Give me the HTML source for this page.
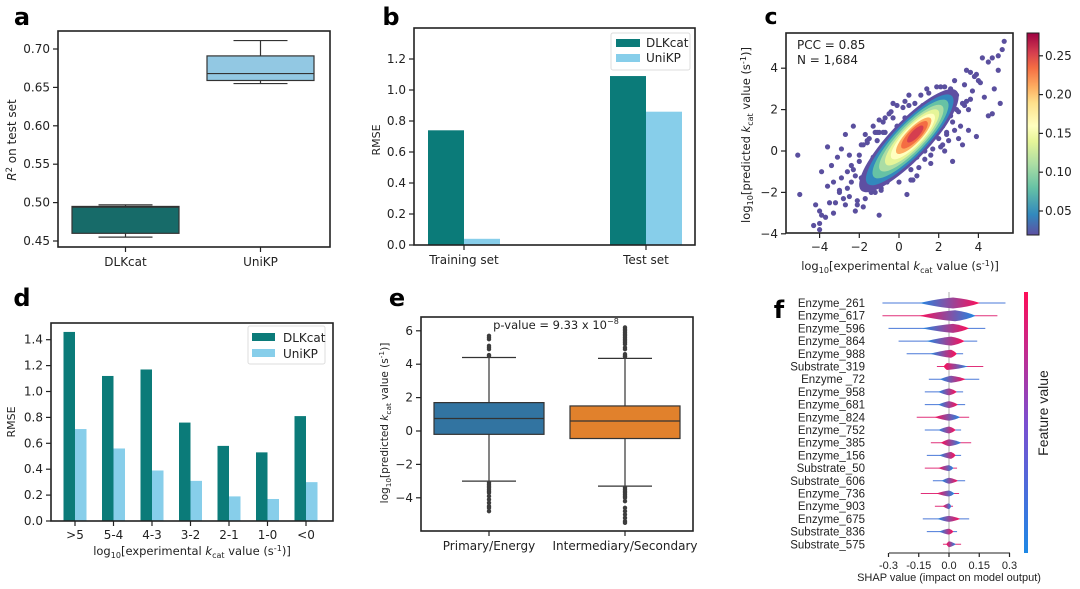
<!DOCTYPE html>
<html><head><meta charset="utf-8"><style>
html,body{margin:0;padding:0;background:#fff}
svg{display:block;font-family:"DejaVu Sans","Liberation Sans",sans-serif}
</style></head><body>
<svg id="fig" width="1080" height="589" viewBox="0 0 1080 589" xmlns="http://www.w3.org/2000/svg">
<defs>
<linearGradient id="cbgrad" x1="0" y1="1" x2="0" y2="0"></linearGradient>
<linearGradient id="fgrad" x1="0" y1="1" x2="0" y2="0"><stop offset="0" stop-color="#1e88e5"/><stop offset="0.5" stop-color="#7b4fd0"/><stop offset="1" stop-color="#ff0d57"/></linearGradient>
</defs>
</svg>
<script>
// ---------- DATA ----------
// panel a
const aCats=["DLKcat","UniKP"];
const aQ1=[0.460,0.659], aMed=[0.494,0.668], aQ3=[0.495,0.691], aLo=[0.455,0.655], aHi=[0.497,0.711];
const aTicks=[0.45,0.50,0.55,0.60,0.65,0.70];
// panel b
const bCats=["Training set","Test set"];
const bDLK=[0.74,1.09], bUni=[0.04,0.86];
const bTicks=[0.0,0.2,0.4,0.6,0.8,1.0,1.2];
// panel c
const cTicks=[-4,-2,0,2,4];
const cbTicks=[0.05,0.10,0.15,0.20,0.25];
const cOutX=[-5.1,-5.0,-4.3,-4.0,-4.0,-4.2,-4.0,-3.9,-3.6,-3.5,-3.3,-3.0,-2.8,-2.7,-2.5,-2.3,-2.0,-2.2,-1.8,-1.0,0.4,-3.9,-3.7,-3.2,-2.9,-2.6,-2.4,-2.1,-1.9,-1.6,-1.3,-1.1,-0.8,-0.5,-0.3,-0.1,0.2,0.5,0.8,1.1,1.4,1.7,2.0,2.3,2.6,2.9,3.1,3.4,3.6,3.8,4.0,3.9,3.5,3.2,4.2,4.5,4.7,5.0,5.2,5.3,5.0,4.8,5.1,4.5,4.7,-1.5,-1.2,-0.9,-0.6,-0.2,0.1,0.6,0.9,1.3,1.6,2.2,2.5,2.8,3.0,-2.6,-2.9,-3.4,-1.7,-0.4,0.3,1.0,1.9,2.7,3.3,-1.4,-0.7,0.0,1.5,2.4,3.7,4.3,-3.1,-2.2,-1.0,0.7,1.2,2.1,3.5,-2.5,-1.9,
 -2.3,-2.0,-1.8,-1.5,-1.2,-1.0,-0.7,-0.4,-0.1,0.3,0.6,1.0,1.3,1.7,2.0,2.4,2.7,3.0,3.3,-2.1,-1.7,-1.4,-0.9,-0.6,-0.2,0.2,0.8,1.2,1.8,2.2,2.6,2.9,3.2,3.6,-2.4,-1.6,-1.1,-0.3,0.5,1.1,2.1,2.8,3.4,3.9,4.1,-3.0,-2.7,-3.6,-3.3,0.9,1.6,2.3,-0.8,-1.3];
const cOutY=[-0.2,-2.1,-3.6,-3.8,-3.5,-2.6,-2.9,-1.0,0.2,-2.5,-1.5,-2.0,-2.3,0.8,-0.2,1.2,-0.5,-2.9,-2.7,-3.1,-2.1,-3.1,-3.2,-2.5,-1.3,-1.8,-0.7,-2.6,-1.3,0.4,1.2,0.5,1.4,1.8,2.3,1.2,2.1,2.7,2.3,2.0,3.0,2.5,1.9,3.1,3.0,2.7,1.2,2.4,3.8,3.6,3.4,0.7,1.0,0.3,4.5,4.3,4.5,4.6,4.9,5.3,3.9,3.0,2.3,1.7,1.8,-1.6,-2.0,-1.8,-1.2,-1.0,-0.6,-0.9,-0.3,0.0,-0.2,0.3,0.5,1.0,0.6,-1.0,0.1,-0.7,0.8,-0.8,1.6,1.7,3.1,-0.5,3.2,-0.6,0.9,-1.5,2.8,0.8,2.9,2.6,-0.3,-1.2,0.9,-1.4,2.2,0.2,2.0,-2.2,0.3,
 -0.9,-0.2,0.3,0.6,0.9,1.5,1.6,1.9,2.2,2.4,-1.4,-0.8,-0.4,0.1,0.6,0.9,1.4,1.9,2.2,-2.4,-2.3,-2.0,-1.9,-1.5,-1.1,-0.7,-0.1,0.2,0.8,1.2,1.7,2.0,2.3,2.5,-1.5,0.5,0.9,1.6,2.2,2.7,3.1,3.4,3.9,3.7,3.3,-1.9,-2.6,-1.7,-3.0,-1.2,-0.6,0.0,0.9,-0.3];
const cDensLevels=[0.03,0.06,0.09,0.12,0.15,0.18,0.21,0.24,0.27];
const cMajor=[3.4,3.0,2.6,2.2,1.85,1.5,1.2,0.9,0.55];
const cMinor=[0.95,0.82,0.72,0.62,0.53,0.45,0.37,0.29,0.19];
const cCenterX=[0.5], cCenterY=[0.5];
// panel d
const dCats=[">5","5-4","4-3","3-2","2-1","1-0","<0"];
const dDLK=[1.46,1.12,1.17,0.76,0.58,0.53,0.81];
const dUni=[0.71,0.56,0.39,0.31,0.19,0.17,0.30];
const dTicks=[0.0,0.2,0.4,0.6,0.8,1.0,1.2,1.4];
// panel e
const eCats=["Primary/Energy","Intermediary/Secondary"];
const eQ1=[-0.2,-0.45], eMed=[0.75,0.6], eQ3=[1.7,1.5], eLo=[-3.0,-3.3], eHi=[4.4,4.35];
const eOutHigh=[[4.5,4.55,4.9,5.0,5.1,5.5,5.6,5.7],[4.45,4.5,4.6,4.9,5.0,5.2,5.3,5.4,5.5,5.6,5.7,5.8,5.9,6.0,6.1,6.2]];
const eOutLow=[[-3.1,-3.2,-3.3,-3.4,-3.5,-3.6,-3.7,-3.9,-4.1,-4.3,-4.5,-4.6,-4.8],[-3.4,-3.5,-3.6,-3.7,-3.8,-3.9,-4.0,-4.2,-4.6,-4.8,-5.0,-5.2,-5.4,-5.5]];
const eTicks=[-4,-2,0,2,4,6];
// panel f
const fFeat=["Enzyme_261","Enzyme_617","Enzyme_596","Enzyme_864","Enzyme_988","Substrate_319","Enzyme _72","Enzyme_958","Enzyme_681","Enzyme_824","Enzyme_752","Enzyme_385","Enzyme_156","Substrate_50","Substrate_606","Enzyme_736","Enzyme_903","Enzyme_675","Substrate_836","Substrate_575"];
const fMin=[-0.33,-0.33,-0.30,-0.25,-0.21,-0.06,-0.10,-0.12,-0.12,-0.16,-0.12,-0.09,-0.11,-0.12,-0.08,-0.14,-0.07,-0.13,-0.11,-0.03];
const fMax=[0.28,0.24,0.18,0.14,0.07,0.17,0.15,0.07,0.08,0.10,0.06,0.11,0.06,0.04,0.08,0.05,0.02,0.10,0.04,0.06];
const fPeak=[0.02,0.03,0.02,0.01,0.01,-0.01,0.01,0.0,0.0,0.0,0.0,0.0,0.01,0.0,0.0,0.0,0.0,0.0,0.0,0.0];
const fThick=[5.5,5.5,4.5,4.5,4,3.5,3.5,3.5,3.5,3.5,3.5,3.5,3.5,3,3,3,3,3,3,3];
const fLeftRed=[0,1,0,0,0,1,0,0,0,1,0,1,0,1,0,1,1,0,0,1];
const fTicks=[-0.3,-0.15,0.0,0.15,0.3];
const fTickLbl=["-0.3","-0.15","0.0","0.15","0.3"];

// ---------- HELPERS ----------
const NS="http://www.w3.org/2000/svg";
const svg=document.getElementById('fig');
function mk(tag,attrs,name,parent){
  const e=document.createElementNS(NS,tag);
  for(const k in attrs) e.setAttribute(k,attrs[k]);
  
  
  (parent||svg).appendChild(e);
  return e;
}
function txt(x,y,s,name,opt){
  opt=opt||{};
  const t=mk('text',{x:x,y:y,'font-size':opt.fs||12,fill:opt.fill||'#222','text-anchor':opt.anchor||'middle','font-weight':opt.fw||'normal'},name);
  if(opt.rot!==undefined) t.setAttribute('transform','rotate('+opt.rot+' '+x+' '+y+')');
  if(opt.family) t.setAttribute('font-family',opt.family);
  t.textContent=s; return t;
}
function line(x1,y1,x2,y2,name,col,w){return mk('line',{x1:x1,y1:y1,x2:x2,y2:y2,stroke:col||'#222','stroke-width':w||1.2},name);}
function frame(x0,y0,x1,y1,name){return mk('rect',{x:x0,y:y0,width:x1-x0,height:y1-y0,fill:'none',stroke:'#222','stroke-width':1.6},name);}
function richLabel(x,y,parts,name,opt){
  const t=txt(x,y,'',name,opt);
  parts.forEach(p=>{const s=document.createElementNS(NS,'tspan');
    if(p.sub||p.sup){s.setAttribute('font-size',(opt.fs||12)*0.7);}
    if(p.dy)s.setAttribute('dy',p.dy);
    if(p.it)s.setAttribute('font-style','italic');
    s.textContent=p.t;t.appendChild(s);});
  return t;
}
function kcatParts(pre){return [{t:'log'},{t:'10',sub:1,dy:3},{t:'['+pre+' ',dy:-3},{t:'k',it:1},{t:'cat',sub:1,dy:3},{t:' value (s',dy:-3},{t:'-1',sup:1,dy:-4},{t:')]',dy:4}];}

// ---------- PANEL A ----------
txt(22,25,'a','panel-label-a',{fs:24,fw:'bold',fill:'#000'});
const ya=v=>241-(v-0.45)/0.05*38.4;
const axA=[125.5,260.5];
aCats.forEach((c,i)=>{
  const cx=axA[i], hw=53.5, col=i?'#92c8e3':'#176b69';
  line(cx,ya(aHi[i]),cx,ya(aQ3[i]),'whisker-a-'+c,'#333');
  line(cx,ya(aQ1[i]),cx,ya(aLo[i]),'whisker-a-'+c,'#333');
  line(cx-27,ya(aHi[i]),cx+27,ya(aHi[i]),'cap-a-'+c,'#333');
  line(cx-27,ya(aLo[i]),cx+27,ya(aLo[i]),'cap-a-'+c,'#333');
  mk('rect',{x:cx-hw,y:ya(aQ3[i]),width:hw*2,height:ya(aQ1[i])-ya(aQ3[i]),fill:col,stroke:'#333','stroke-width':1.2},'box-a-'+c);
  line(cx-hw,ya(aMed[i]),cx+hw,ya(aMed[i]),'median-a-'+c,'#333');
  line(cx,247,cx,252,'xtick-a','#222');
  txt(cx,266,c,'xtick-label-a',{fs:12});
});
aTicks.forEach(v=>{line(53,ya(v),58,ya(v),'ytick-a');txt(50,ya(v)+4,v.toFixed(2),'ytick-label-a',{anchor:'end',fs:12});});
frame(58,31,330,247,'axes-a');
richLabel(16,140,[{t:'R',it:1},{t:'2',sup:1,dy:-4},{t:' on test set',dy:4}],'y-axis-title-a',{fs:12,rot:-90});

// ---------- PANEL B ----------
txt(391,25,'b','panel-label-b',{fs:24,fw:'bold',fill:'#000'});
const yb=v=>245-v/0.2*31;
const bx=[464,646];
bCats.forEach((c,i)=>{
  mk('rect',{x:bx[i]-36,y:yb(bDLK[i]),width:36,height:245-yb(bDLK[i]),fill:'#0b7b79'},'bar-b-dlkcat-'+i);
  mk('rect',{x:bx[i],y:yb(bUni[i]),width:36,height:245-yb(bUni[i]),fill:'#87ceea'},'bar-b-unikp-'+i);
  line(bx[i],245,bx[i],250,'xtick-b');
  txt(bx[i],264,c,'xtick-label-b',{fs:12});
});
bTicks.forEach(v=>{line(409,yb(v),414,yb(v),'ytick-b');txt(406,yb(v)+4,v.toFixed(1),'ytick-label-b',{anchor:'end',fs:12});});
frame(414,28,695,245,'axes-b');
txt(380,140,'RMSE','y-axis-title-b',{fs:11,rot:-90});
mk('rect',{x:611,y:33,width:79,height:37,fill:'#fff',stroke:'#ddd','stroke-width':1,rx:2},'legend-b');
mk('rect',{x:616,y:39,width:24,height:8,fill:'#0b7b79'},'legend-swatch-dlkcat-b');
txt(646,47,'DLKcat','legend-label-dlkcat-b',{anchor:'start',fs:12});
mk('rect',{x:616,y:54,width:24,height:8,fill:'#87ceea'},'legend-swatch-unikp-b');
txt(646,62,'UniKP','legend-label-unikp-b',{anchor:'start',fs:12});

// ---------- PANEL C ----------
txt(771,24,'c','panel-label-c',{fs:22,fw:'bold',fill:'#000'});
const xc=v=>899+v*19.85, yc=v=>151-v*20.7;
const cmStops=[[0.019,'#5e4fa2'],[0.045,'#3288bd'],[0.08,'#66c2a5'],[0.11,'#abdda4'],[0.14,'#e6f598'],[0.16,'#ffffbf'],[0.19,'#fee08b'],[0.21,'#fdae61'],[0.235,'#f46d43'],[0.255,'#d53e4f'],[0.28,'#9e0142']];
function cmap(v){return cmStops.reduce((a,s)=>v>=s[0]?s[1]:a,cmStops[0][1]);}
const cg=document.getElementById('cbgrad');
cmStops.forEach(s=>{const st=document.createElementNS(NS,'stop');st.setAttribute('offset',((s[0]-0.019)/(0.28-0.019)).toFixed(3));st.setAttribute('stop-color',s[1]);cg.appendChild(st);});
const cClip=mk('clipPath',{id:'cclip'},'clip-c');
mk('rect',{x:786,y:33,width:227,height:200},'clip-rect-c',cClip);
const cG=mk('g',{'clip-path':'url(#cclip)'},'scatter-c');
cOutX.forEach((x,i)=>{mk('circle',{cx:xc(x),cy:yc(cOutY[i]),r:2.6,fill:'#5a4f9e'},'point-c',cG);});
const ang=-Math.atan2(1*20.7,1*19.85)*180/Math.PI;
cDensLevels.forEach((d,i)=>{
  const e=mk('ellipse',{cx:xc(cCenterX[0]+(i*0.04)),cy:yc(cCenterY[0]+(i*0.04)),rx:cMajor[i]*20.3,ry:cMinor[i]*20.3,fill:cmap(d)},'density-level-c',cG);
  e.setAttribute('transform','rotate('+ang+' '+e.getAttribute('cx')+' '+e.getAttribute('cy')+')');
});
cTicks.forEach(v=>{line(xc(v),233,xc(v),238,'xtick-c');txt(xc(v),251,v<0?'−'+(-v):''+v,'xtick-label-c',{fs:12});
  line(781,yc(v),786,yc(v),'ytick-c');txt(778,yc(v)+4,v<0?'−'+(-v):''+v,'ytick-label-c',{anchor:'end',fs:12});});
frame(786,33,1013,233,'axes-c');
txt(797,49,'PCC = 0.85','annotation-pcc',{anchor:'start',fs:12});
txt(797,64,'N = 1,684','annotation-n',{anchor:'start',fs:12});
richLabel(900,270,kcatParts('experimental'),'x-axis-title-c',{fs:11.5});
richLabel(750,135,kcatParts('predicted'),'y-axis-title-c',{fs:11.5,rot:-90});
mk('rect',{x:1027,y:33,width:12,height:202,fill:'url(#cbgrad)',stroke:'#222','stroke-width':1},'colorbar-c');
const ycb=v=>211-(v-0.05)/0.05*38.8;
cbTicks.forEach(v=>{line(1039,ycb(v),1043,ycb(v),'colorbar-tick');txt(1045,ycb(v)+4,v.toFixed(2),'colorbar-tick-label',{anchor:'start',fs:12});});

// ---------- PANEL D ----------
txt(22,306,'d','panel-label-d',{fs:24,fw:'bold',fill:'#000'});
const yd=v=>521-v/0.2*25.9;
const xd=i=>75+i*38.5;
dCats.forEach((c,i)=>{
  mk('rect',{x:xd(i)-11.5,y:yd(dDLK[i]),width:11.5,height:521-yd(dDLK[i]),fill:'#0b7b79'},'bar-d-dlkcat-'+i);
  mk('rect',{x:xd(i),y:yd(dUni[i]),width:11.5,height:521-yd(dUni[i]),fill:'#87ceea'},'bar-d-unikp-'+i);
  line(xd(i),521,xd(i),526,'xtick-d');
  txt(xd(i),539,c,'xtick-label-d',{fs:12});
});
dTicks.forEach(v=>{line(46,yd(v),51,yd(v),'ytick-d');txt(43,yd(v)+4,v.toFixed(1),'ytick-label-d',{anchor:'end',fs:12});});
frame(51,323,333,521,'axes-d');
txt(15,422,'RMSE','y-axis-title-d',{fs:11,rot:-90});
richLabel(192,555,kcatParts('experimental'),'x-axis-title-d',{fs:11.5});
mk('rect',{x:248,y:326,width:77,height:38,fill:'#fff',stroke:'#ddd','stroke-width':1,rx:2},'legend-d');
mk('rect',{x:252,y:333,width:23,height:8,fill:'#0b7b79'},'legend-swatch-dlkcat-d');
txt(283,342,'DLKcat','legend-label-dlkcat-d',{anchor:'start',fs:12});
mk('rect',{x:252,y:349,width:23,height:8,fill:'#87ceea'},'legend-swatch-unikp-d');
txt(283,358,'UniKP','legend-label-unikp-d',{anchor:'start',fs:12});

// ---------- PANEL E ----------
txt(397,306,'e','panel-label-e',{fs:24,fw:'bold',fill:'#000'});
const ye=v=>431-v*16.7;
const ex=[489,625];
eCats.forEach((c,i)=>{
  const cx=ex[i], hw=55, col=i?'#e1812c':'#3274a1';
  line(cx,ye(eHi[i]),cx,ye(eLo[i]),'whisker-e-'+i,'#333');
  line(cx-27,ye(eHi[i]),cx+27,ye(eHi[i]),'cap-e-'+i,'#333');
  line(cx-27,ye(eLo[i]),cx+27,ye(eLo[i]),'cap-e-'+i,'#333');
  mk('rect',{x:cx-hw,y:ye(eQ3[i]),width:hw*2,height:ye(eQ1[i])-ye(eQ3[i]),fill:col,stroke:'#333','stroke-width':1.2},'box-e-'+i);
  line(cx-hw,ye(eMed[i]),cx+hw,ye(eMed[i]),'median-e-'+i,'#333');
  eOutHigh[i].concat(eOutLow[i]).forEach(v=>mk('circle',{cx:cx,cy:ye(v),r:2.2,fill:'#3d3d3d'},'outlier-e',svg));
  line(cx,531,cx,536,'xtick-e');
  txt(cx,550,c,'xtick-label-e',{fs:12});
});
eTicks.forEach(v=>{line(416,ye(v),421,ye(v),'ytick-e');txt(413,ye(v)+4,v<0?'−'+(-v):''+v,'ytick-label-e',{anchor:'end',fs:12});});
frame(421,317,693,531,'axes-e');
richLabel(556,329,[{t:'p-value = 9.33 x 10'},{t:'−8',sup:1,dy:-5}],'annotation-pvalue',{fs:11.5});
richLabel(388,423,kcatParts('predicted'),'y-axis-title-e',{fs:10.5,rot:-90});

// ---------- PANEL F ----------
txt(779,318,'f','panel-label-f',{fs:24,fw:'bold',fill:'#000'});
const xf=v=>949+v*201.7, yf=i=>303+i*12.7;
line(949,292,949,553,'zero-line-f','#999',0.8);
fFeat.forEach((f,i)=>{
  const y=yf(i), red='#ff0d57', blue='#1e88e5';
  const gid='fg'+i;
  const g=mk('linearGradient',{id:gid,x1:'0',x2:'1',y1:'0',y2:'0'},'gradient-f',svg.querySelector('defs'));
  mk('stop',{offset:'0','stop-color':fLeftRed[i]?red:blue},'stop',g);
  mk('stop',{offset:'1','stop-color':fLeftRed[i]?blue:red},'stop',g);
  line(xf(fMin[i]),y,xf(fMax[i]),y,'shap-range-'+f,fLeftRed[i]?'#e0307a':'#4a78d8',1);
  line(xf(fMin[i]*0.8),y,xf(fMax[i]*0.8),y,'shap-tail-'+f,'url(#'+gid+')',2.2);
  const l=xf(fMin[i]*0.45), r=xf(fMax[i]*0.55), p=xf(fPeak[i]), h=fThick[i];
  const d='M'+l+' '+y+' Q'+(p-(p-l)*0.4)+' '+(y-h*0.8)+' '+p+' '+(y-h)+' Q'+(r-(r-p)*0.4)+' '+(y-h*0.7)+' '+r+' '+y+' Q'+(r-(r-p)*0.4)+' '+(y+h*0.7)+' '+p+' '+(y+h)+' Q'+(p-(p-l)*0.4)+' '+(y+h*0.8)+' '+l+' '+y+'Z';
  mk('path',{d:d,fill:'url(#'+gid+')'},'shap-swarm-'+f);
  txt(865,y+4,f,'feature-label-'+f,{anchor:'end',fs:11.5,family:'"Liberation Sans",sans-serif'});
});
line(889,553,1010,553,'x-axis-f','#222',1);
fTicks.forEach((v,i)=>{line(xf(v),553,xf(v),557,'xtick-f');txt(xf(v),569,fTickLbl[i],'xtick-label-f',{fs:11,family:'"Liberation Sans",sans-serif'});});
txt(949,581,'SHAP value (impact on model output)','x-axis-title-f',{fs:11,family:'"Liberation Sans",sans-serif'});
mk('rect',{x:1024,y:292,width:4,height:261,fill:'url(#fgrad)'},'feature-colorbar-f');
txt(1048,413,'Feature value','colorbar-title-f',{fs:14,rot:-90,family:'"Liberation Sans",sans-serif'});
</script>
</body></html>
